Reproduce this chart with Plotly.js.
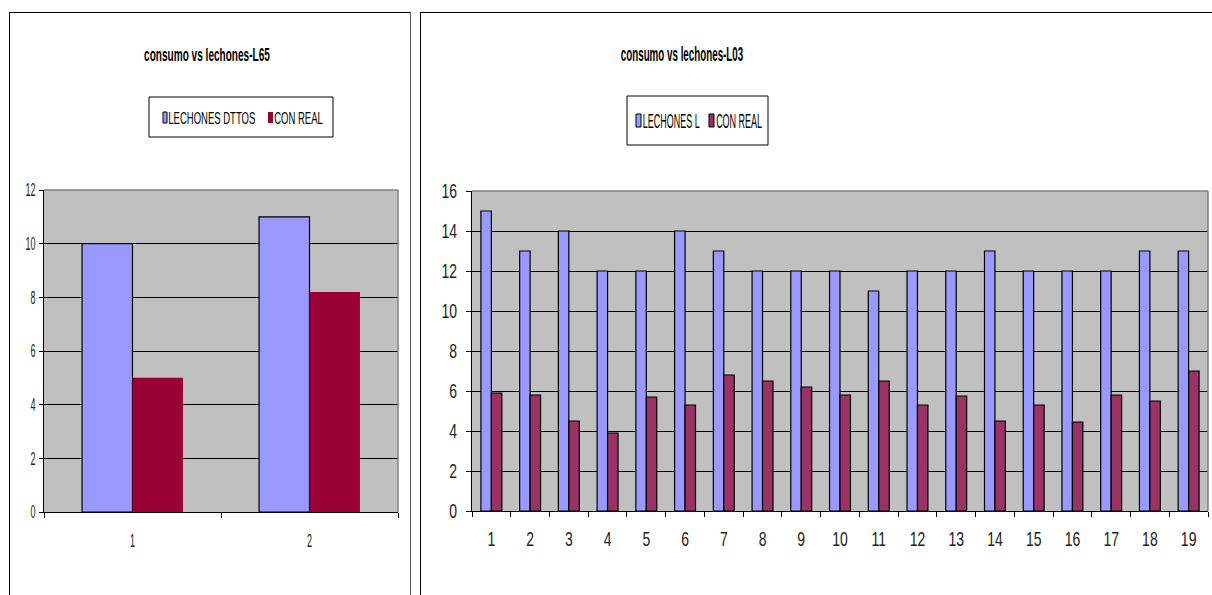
<!DOCTYPE html>
<html>
<head>
<meta charset="utf-8">
<script src="https://cdn.plot.ly/plotly-3.0.1.min.js"></script>
<style>
  html, body { margin: 0; padding: 0; background: #fff; width: 1212px; height: 595px; overflow: hidden; }
  #l65 { position: absolute; left: 9px; top: 12px; width: 402px; height: 583px;
         border-left: 1px solid #000; border-top: 1px solid #000; border-right: 1px solid #555; box-sizing: border-box; }
  #l03 { position: absolute; left: 420px; top: 12px; width: 792px; height: 583px;
         border-left: 1px solid #000; border-top: 1px solid #000; box-sizing: border-box; }
</style>
</head>
<body>
<div id="l65"></div>
<div id="l03"></div>
<script>
// Lote L65
const l65Categorias = ['1', '2'];
const l65Lechones = [10, 11];
const l65Consumo = [5, 8.2];

// Lote L03
const l03Categorias = ['1','2','3','4','5','6','7','8','9','10','11','12','13','14','15','16','17','18','19'];
const l03Lechones = [15, 13, 14, 12, 12, 14, 13, 12, 12, 12, 11, 12, 12, 13, 12, 12, 12, 13, 13];
const l03Consumo = [5.9, 5.8, 4.5, 3.9, 5.7, 5.3, 6.8, 6.5, 6.2, 5.8, 6.5, 5.3, 5.75, 4.5, 5.3, 4.45, 5.8, 5.5, 7.0];

const FONT = '"Liberation Sans", Arial, sans-serif';
const AZUL = '#9999FF';

// narrow the glyphs horizontally around each text's own anchor point
function squeeze(root, selector, sx) {
  root.querySelectorAll(selector).forEach(t => {
    const x = parseFloat(t.getAttribute('x') || 0);
    const y = parseFloat(t.getAttribute('y') || 0);
    const prev = t.getAttribute('transform') || '';
    t.setAttribute('transform', `${prev} translate(${x},${y}) scale(${sx},1) translate(${-x},${-y})`);
  });
}

function chart(el, o) {
  const W = o.w, H = 582;
  const pw = W - o.margin.l - o.margin.r;
  const ph = H - o.margin.t - o.margin.b;
  // pixel (inside the frame) -> paper fraction of the plot area
  const px = v => (v - o.margin.l) / pw;
  const py = v => (H - o.margin.b - v) / ph;

  const traces = [
    { type: 'bar', name: o.names[0], x: o.cats, y: o.a,
      marker: { color: AZUL, line: { color: '#000', width: 1.2 } } },
    { type: 'bar', name: o.names[1], x: o.cats, y: o.b,
      marker: { color: o.colorB, line: { color: '#000', width: o.lineB } } }
  ];

  const L = o.leg;
  const shapes = [
    { type: 'line', xref: 'paper', yref: 'paper', x0: 0, x1: 1, y0: 1, y1: 1, layer: 'above',
      line: { color: '#808080', width: 1.5 } },
    { type: 'line', xref: 'paper', yref: 'paper', x0: 1, x1: 1, y0: 0, y1: 1, layer: 'above',
      line: { color: '#808080', width: 1.5 } },
    // legend frame
    { type: 'rect', xref: 'paper', yref: 'paper', x0: px(L.box[0]), x1: px(L.box[1]),
      y0: py(L.box[3]), y1: py(L.box[2]), line: { color: '#000', width: 1 }, fillcolor: '#fff' },
    // legend swatches
    { type: 'rect', xref: 'paper', yref: 'paper', x0: px(L.sw1[0]), x1: px(L.sw1[1]),
      y0: py(L.sw1[3]), y1: py(L.sw1[2]), line: { color: '#000', width: 1 }, fillcolor: AZUL },
    { type: 'rect', xref: 'paper', yref: 'paper', x0: px(L.sw2[0]), x1: px(L.sw2[1]),
      y0: py(L.sw2[3]), y1: py(L.sw2[2]), line: { color: '#000', width: o.lineB ? 1 : 0 }, fillcolor: o.colorB }
  ];

  const annotations = [
    { text: o.names[0], xref: 'paper', yref: 'paper', x: px(L.t1[0]), y: py(L.t1[1]),
      xanchor: 'center', yanchor: 'middle', showarrow: false,
      font: { family: FONT, size: L.size, color: '#000' } },
    { text: o.names[1], xref: 'paper', yref: 'paper', x: px(L.t2[0]), y: py(L.t2[1]),
      xanchor: 'center', yanchor: 'middle', showarrow: false,
      font: { family: FONT, size: L.size, color: '#000' } }
  ];

  const axisFont = { family: FONT, size: o.tickSize, color: '#222' };
  const layout = {
    width: W, height: H,
    margin: Object.assign({ pad: 0 }, o.margin),
    paper_bgcolor: '#fff', plot_bgcolor: '#C0C0C0',
    font: { family: FONT, color: '#222', size: o.tickSize },
    barmode: 'group', bargap: o.bargap, bargroupgap: 0,
    showlegend: false,
    title: { text: o.title, xref: 'container', yref: 'container',
             x: o.titlePos[0] / W, xanchor: 'center', y: 1 - o.titlePos[1] / H, yanchor: 'middle',
             font: { family: FONT, size: o.titleSize, color: '#000', weight: 'bold' } },
    xaxis: { type: 'category', showgrid: false, zeroline: false, showline: true, linecolor: '#000', linewidth: 1,
             ticks: 'outside', tickson: 'boundaries', ticklen: 5, tickcolor: '#000',
             ticklabelstandoff: o.xStand, tickfont: axisFont, fixedrange: true },
    yaxis: { range: [0, o.ymax], dtick: 2, showgrid: true, gridcolor: '#000', gridwidth: 1,
             zeroline: false, showline: true, linecolor: '#000', linewidth: 1,
             ticks: 'outside', ticklen: o.yTickLen, tickcolor: '#000',
             ticklabelstandoff: o.yStand, tickfont: axisFont, fixedrange: true },
    shapes, annotations
  };

  const node = document.getElementById(el);
  return Plotly.newPlot(node, traces, layout, { displayModeBar: false, staticPlot: true }).then(() => {
    squeeze(node, '.xtick text, .ytick text', o.tickSx);
    squeeze(node, '.gtitle', o.titleSx);
    squeeze(node, '.annotation-text', L.sx);
  });
}

chart('l65', {
  w: 400, cats: l65Categorias, a: l65Lechones, b: l65Consumo,
  names: ['LECHONES DTTOS', 'CON REAL'], colorB: '#990033', lineB: 0,
  margin: { l: 34, r: 12, t: 177, b: 83 },
  bargap: 0.43, ymax: 12, tickSize: 18, tickSx: 0.5, xStand: 12, yStand: 0, yTickLen: 4,
  title: 'consumo vs lechones-L65', titlePos: [197, 41], titleSize: 19, titleSx: 0.53,
  leg: { box: [139, 323, 84, 124], sw1: [153, 157, 99, 110], sw2: [258, 263, 99, 110],
         t1: [201.5, 105], t2: [288.3, 105], size: 17, sx: 0.56 }
});

chart('l03', {
  w: 791, cats: l03Categorias, a: l03Lechones, b: l03Consumo,
  names: ['LECHONES L', 'CON REAL'], colorB: '#993366', lineB: 1.2,
  margin: { l: 51, r: 4, t: 178, b: 84 },
  bargap: 0.46, ymax: 16, tickSize: 20, tickSx: 0.7, xStand: 10, yStand: 5, yTickLen: 5,
  title: 'consumo vs lechones-L03', titlePos: [261, 41], titleSize: 20, titleSx: 0.49,
  leg: { box: [206, 347, 83, 132], sw1: [215, 220, 101, 114], sw2: [288, 293, 101, 114],
         t1: [250, 108], t2: [318, 108], size: 20, sx: 0.45 }
});
</script>
</body>
</html>
